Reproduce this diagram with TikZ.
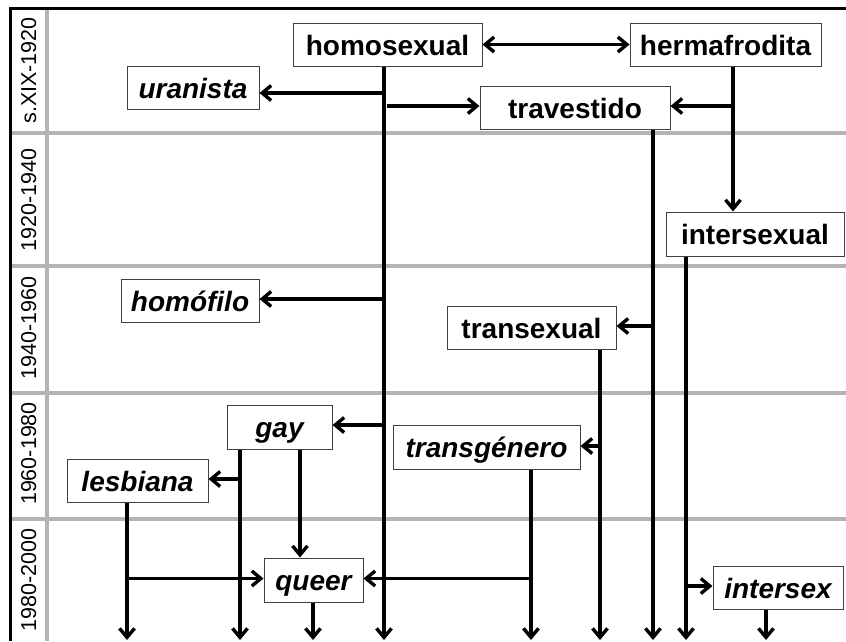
\documentclass[tikz,border=0pt]{standalone}
\usepackage{fontspec}
\setmainfont{Liberation Sans}
\usetikzlibrary{arrows.meta}
\definecolor{bandgray}{HTML}{B4B4B4}
\definecolor{boxgray}{HTML}{404040}
\begin{document}
\begin{tikzpicture}[x=1pt,y=-1pt,
  term/.style={draw=boxgray, line width=1pt, fill=white, inner sep=0pt, minimum height=43pt,
    text height=32pt, text depth=11pt,
    font=\fontsize{28}{32}\selectfont\bfseries, text=black},
  termi/.style={term, font=\fontsize{28}{32}\selectfont\bfseries\itshape},
  conn/.style={line width=3.4pt, black},
  arr/.style={conn, -{Straight Barb[length=9pt,width=15pt]}},
  arrboth/.style={conn, {Straight Barb[length=9pt,width=15pt]}-{Straight Barb[length=9pt,width=15pt]}},
  period/.style={rotate=90, anchor=base, inner sep=0pt, font=\fontsize{21.5}{24}\selectfont},
  band/.style={line width=4.5pt, bandgray},
  frame/.style={line width=3pt, black}]
\useasboundingbox (0,0) rectangle (846,641);
% period bands
\draw[band] (47,9.5) -- (47,641);
\foreach \yy in {133,266,393,519} \draw[band] (11.5,\yy) -- (846,\yy);
\draw[frame] (10,641) -- (10,8) -- (846,8);
% period labels
\node[period] (p1) at (36,70.5) {s.XIX-1920};
\node[period] (p2) at (36,200) {1920-1940};
\node[period] (p3) at (36,328) {1940-1960};
\node[period] (p4) at (36,453.5) {1960-1980};
\node[period] (p5) at (36,580) {1980-2000};
% terms
\node[term, minimum width=189pt] (homosexual) at (387.5,44.5) {homosexual\hspace{8pt}};
\node[term, minimum width=191pt] (hermafrodita) at (725.5,44.5) {hermafrodita};
\node[termi, minimum width=132pt] (uranista) at (193,87.5) {uranista};
\node[term, minimum width=190pt] (travestido) at (575,107.5) {travestido};
\node[term, minimum width=178pt, text height=32.5pt, text depth=11.5pt] (intersexual) at (755,234) {intersexual};
\node[termi, minimum width=138pt] (homofilo) at (190,300.5) {homófilo};
\node[term, minimum width=169pt] (transexual) at (531.5,327.5) {transexual\hspace{12pt}};
\node[termi, minimum width=105pt, text height=32.5pt, text depth=11.5pt] (gay) at (279.5,427) {gay};
\node[termi, minimum width=141pt] (lesbiana) at (137.5,480.5) {lesbiana\hspace{7pt}};
\node[termi, minimum width=187pt, text height=32.5pt, text depth=11.5pt] (transgenero) at (486.5,447) {transgénero\hspace{4pt}};
\node[termi, minimum width=99pt, text height=32.5pt, text depth=11.5pt] (queer) at (313.5,580) {queer};
\node[termi, minimum width=130pt] (intersex) at (778,587.5) {intersex};
% x positions of the lines
\coordinate (bot) at (0,640);
\coordinate (vH) at (384,0);
\coordinate (vHe) at (733,0);
\coordinate (vTr) at (653,0);
\coordinate (vIs) at (686,0);
\coordinate (vTs) at (600,0);
\coordinate (vGl) at (240,0);
\coordinate (vGr) at (300,0);
\coordinate (vLe) at (127,0);
\coordinate (vTg) at (531,0);
\coordinate (vQ) at (313,0);
\coordinate (vIx) at (766,0);
% y positions of the branches
\coordinate (yU) at (0,93);
\coordinate (yT) at (0,106);
\coordinate (yTs) at (0,326);
\coordinate (yHf) at (0,299);
\coordinate (yG) at (0,425);
\coordinate (yTg) at (0,446);
\coordinate (yL) at (0,479);
\coordinate (yQ) at (0,578.5);
\coordinate (yIx) at (0,586);
% connectors
\draw[arrboth] (homosexual) -- (hermafrodita);
\draw[arr] (homosexual.south -| vH) -- (bot -| vH);
\draw[arr] (vH |- yU) -- (uranista.east |- yU);
\draw[arr] ([xshift=2.5pt]vH |- yT) -- (travestido.west |- yT);
\draw[arr] (hermafrodita.south -| vHe) -- (intersexual.north -| vHe);
\draw[arr] (vHe |- yT) -- (travestido.east |- yT);
\draw[arr] (travestido.south -| vTr) -- (bot -| vTr);
\draw[arr] (vTr |- yTs) -- (transexual.east |- yTs);
\draw[arr] (intersexual.south -| vIs) -- (bot -| vIs);
\draw[arr] (vIs |- yIx) -- (intersex.west |- yIx);
\draw[arr] (vH |- yHf) -- (homofilo.east |- yHf);
\draw[arr] (transexual.south -| vTs) -- (bot -| vTs);
\draw[arr] (vTs |- yTg) -- (transgenero.east |- yTg);
\draw[arr] (vH |- yG) -- (gay.east |- yG);
\draw[arr] (gay.south -| vGl) -- (bot -| vGl);
\draw[arr] (vGl |- yL) -- (lesbiana.east |- yL);
\draw[arr] (gay.south -| vGr) -- (queer.north -| vGr);
\draw[arr] (lesbiana.south -| vLe) -- (bot -| vLe);
\draw[arr] (vLe |- yQ) -- (queer.west |- yQ);
\draw[arr] (transgenero.south -| vTg) -- (bot -| vTg);
\draw[arr] (vTg |- yQ) -- (queer.east |- yQ);
\draw[arr] (queer.south -| vQ) -- (bot -| vQ);
\draw[arr] (intersex.south -| vIx) -- (bot -| vIx);
\end{tikzpicture}
\end{document}
